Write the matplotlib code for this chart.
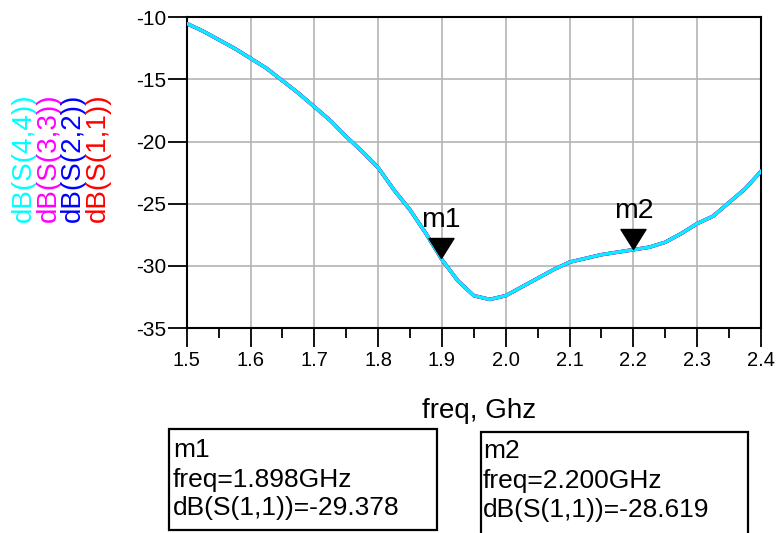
import matplotlib
matplotlib.use("Agg")
import matplotlib.pyplot as plt
from matplotlib.path import Path
from matplotlib.markers import MarkerStyle
from matplotlib.patches import Rectangle
from matplotlib.ticker import MultipleLocator

plt.rcParams['font.family'] = ['Liberation Sans', 'DejaVu Sans']

# ---- data ----
freq_ghz = [1.500, 1.525, 1.550, 1.575, 1.600, 1.625, 1.650, 1.675, 1.700, 1.725,
            1.750, 1.775, 1.800, 1.825, 1.850, 1.875, 1.900, 1.925, 1.950, 1.975,
            2.000, 2.025, 2.050, 2.075, 2.100, 2.125, 2.150, 2.175, 2.200, 2.225,
            2.250, 2.275, 2.300, 2.325, 2.350, 2.375, 2.400]
s11_db = [-10.5, -11.1, -11.8, -12.5, -13.3, -14.1, -15.1, -16.1, -17.2, -18.3,
          -19.6, -20.8, -22.1, -23.9, -25.5, -27.4, -29.5, -31.2, -32.4, -32.7,
          -32.4, -31.7, -31.0, -30.3, -29.7, -29.4, -29.1, -28.9, -28.7, -28.5,
          -28.1, -27.4, -26.6, -26.0, -24.9, -23.8, -22.4]
s22_db = list(s11_db)
s33_db = list(s11_db)
s44_db = list(s11_db)

trace_labels = ["dB(S(4,4))", "dB(S(3,3))", "dB(S(2,2))", "dB(S(1,1))"]
trace_colors = ["#00ffff", "#ff00ff", "#0000ff", "#ff0000"]

marker_names = ["m1", "m2"]
marker_freq = [1.898, 2.200]
marker_db = [-29.378, -28.619]

x_ticks = [1.5, 1.6, 1.7, 1.8, 1.9, 2.0, 2.1, 2.2, 2.3, 2.4]
y_ticks = [-35, -30, -25, -20, -15, -10]

# ---- figure ----
W, H = 778, 533
fig = plt.figure(figsize=(W / 100, H / 100), dpi=100)
L, R, T, B = 186.7, 761, 17.3, 328
ax = fig.add_axes([L / W, 1 - B / H, (R - L) / W, (B - T) / H])

ax.plot(freq_ghz, s11_db, color="#ff0000", lw=2.5, zorder=3)
ax.plot(freq_ghz, s22_db, color="#0000ff", lw=2.5, zorder=4)
ax.plot(freq_ghz, s33_db, color="#b070ff", lw=2.5, zorder=5)
ax.plot(freq_ghz, s44_db, color="#00f2ff", lw=2.2, zorder=6)

ax.set_xlim(1.5, 2.4)
ax.set_ylim(-35, -10)
ax.set_xticks(x_ticks)
ax.set_xticklabels([f"{v:.1f}" for v in x_ticks])
ax.set_yticks(y_ticks)
ax.set_yticklabels([str(v) for v in y_ticks])
ax.xaxis.set_minor_locator(MultipleLocator(0.05))
ax.grid(True, which="major", color="#b4b4b4", lw=1.2, zorder=1)
ax.set_axisbelow(True)
for s in ax.spines.values():
    s.set_linewidth(1.5)
    s.set_color("black")
ax.tick_params(axis="x", which="major", direction="out", length=13.5, width=1.3,
               labelsize=14.5, pad=3)
ax.tick_params(axis="x", which="minor", direction="out", length=7.5, width=1.3)
ax.tick_params(axis="y", which="major", direction="out", length=13.5, width=1.3,
               labelsize=15, pad=1)

# x label
fig.text(479 / W, 1 - 418 / H, "freq, Ghz", ha="center", va="baseline", fontsize=20)

# stacked coloured y labels
col_x = [24, 48.5, 73, 98]
for lab, col, cx in zip(trace_labels, trace_colors, col_x):
    fig.text(cx / W, 1 - 158 / H, lab, rotation=90, ha="center", va="center",
             color=col, fontsize=20)

# markers: downward triangle with apex at the data point
tri = Path([(-0.625, 1.0), (0.625, 1.0), (0.0, 0.0), (-0.625, 1.0)],
           [Path.MOVETO, Path.LINETO, Path.LINETO, Path.CLOSEPOLY])
for name, fx, fy in zip(marker_names, marker_freq, marker_db):
    ax.plot([fx], [fy], marker=MarkerStyle(tri), markersize=28.8,
            color="black", zorder=8, clip_on=False)
    ax.annotate(name, (fx, fy), xytext=(0, 18), textcoords="offset points",
                ha="center", va="bottom", fontsize=20.5, zorder=9)

# marker readout boxes
boxes = [(169, 429, 437, 530, 173, [456.7, 486.7, 515.5]),
         (481, 432, 748, 545, 483, [458, 488, 517])]
for (x0, y0, x1, y1, tx, bases), name, fx, fy in zip(boxes, marker_names, marker_freq, marker_db):
    fig.patches.append(Rectangle((x0 / W, 1 - y1 / H), (x1 - x0) / W, (y1 - y0) / H,
                                 transform=fig.transFigure, fill=False,
                                 edgecolor="black", lw=1.6))
    lines = [name, f"freq={fx:.3f}GHz", f"dB(S(1,1))={fy:.3f}"]
    for t, by in zip(lines, bases):
        fig.text(tx / W, 1 - by / H, t, ha="left", va="baseline", fontsize=19)

fig.savefig("out.png", dpi=100)
